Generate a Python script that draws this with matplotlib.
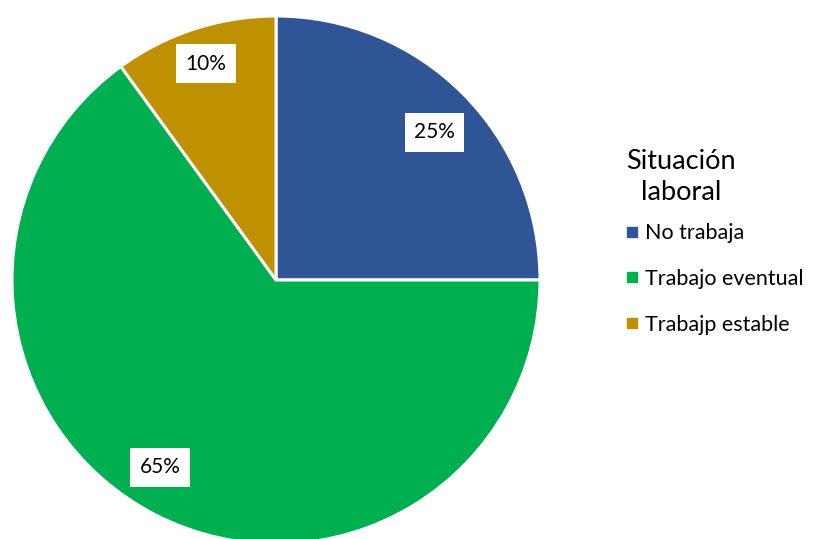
import matplotlib.pyplot as plt
from matplotlib.lines import Line2D

plt.rcParams['font.family'] = ['Lato', 'DejaVu Sans']

# Data
categories = ['No trabaja', 'Trabajo eventual', 'Trabajp estable']
values = [25, 65, 10]
colors = ['#2F5597', '#00B050', '#BF9000']

# label placement (data coords of the unit pie), Excel "best fit" look
label_xy = [(0.60, 0.56), (-0.44, -0.71), (-0.265, 0.82)]

fig = plt.figure(figsize=(8.13, 5.39), dpi=100)
W, H = 813, 539
cx, cy, r = 276, 280, 264
ax = fig.add_axes([(cx - r) / W, (H - cy - r) / H, 2 * r / W, 2 * r / H])

wedges, texts, autotexts = ax.pie(
    values, colors=colors, startangle=90, counterclock=False,
    radius=1, autopct='%d%%', pctdistance=0.82,
    wedgeprops=dict(edgecolor='white', linewidth=2.2),
    textprops=dict(fontsize=15, color='black'))

for t, xy in zip(autotexts, label_xy):
    t.set_position(xy)
    t.set_bbox(dict(facecolor='white', edgecolor='none',
                    boxstyle='square,pad=0.45'))

ax.set_xlim(-1, 1)
ax.set_ylim(-1, 1)
ax.set_aspect('equal')
ax.axis('off')

# Legend
handles = [Line2D([], [], marker='s', linestyle='none', markersize=7,
                  markerfacecolor=c, markeredgecolor=c) for c in colors]
leg = fig.legend(handles, categories, loc='upper left',
                 bbox_to_anchor=(626 / W, 1 - 149 / H),
                 title='Situación\nlaboral', title_fontsize=19.5, fontsize=15.5,
                 frameon=False, handlelength=0.55, handletextpad=0.35,
                 labelspacing=1.2, borderpad=0, borderaxespad=0)
leg._legend_box.align = 'left'
leg._legend_box.sep = 13
leg.get_title().set_multialignment('center')
leg.get_title().set_linespacing(1.3)

fig.savefig('out.png', dpi=100)
